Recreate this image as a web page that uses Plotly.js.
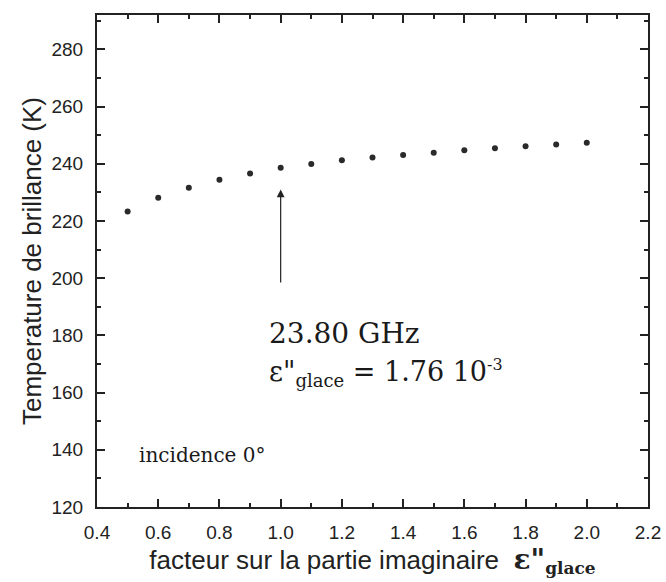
<!DOCTYPE html>
<html>
<head>
<meta charset="utf-8">
<script src="https://cdn.plot.ly/plotly-3.0.1.min.js"></script>
<style>html,body{margin:0;padding:0;background:#fff;}</style>
</head>
<body>
<div id="chart" style="width:666px;height:582px;"></div>
<script>
// Data
const facteur = [0.5, 0.6, 0.7, 0.8, 0.9, 1.0, 1.1, 1.2, 1.3, 1.4, 1.5, 1.6, 1.7, 1.8, 1.9, 2.0];
const tempBrillance = [223.3, 228.1, 231.6, 234.4, 236.6, 238.6, 239.9, 241.2, 242.2, 243.1, 243.8, 244.7, 245.4, 246.1, 246.7, 247.3];
const xTickVals = [0.4, 0.6, 0.8, 1.0, 1.2, 1.4, 1.6, 1.8, 2.0, 2.2];
const xTickText = ['0.4', '0.6', '0.8', '1.0', '1.2', '1.4', '1.6', '1.8', '2.0', '2.2'];
const yTickVals = [120, 140, 160, 180, 200, 220, 240, 260, 280];
const arrowX = 1.0, arrowTip = 231, arrowTail = 198;

const trace = {
  x: facteur, y: tempBrillance, type: 'scatter', mode: 'markers',
  marker: {color: '#2a2a2a', size: 6},
  hoverinfo: 'x+y', showlegend: false
};
// empty trace so the label-only overlay axis is attached to the plot
const labelAxisTrace = {x: [], y: [], xaxis: 'x2', yaxis: 'y', type: 'scatter', mode: 'markers', showlegend: false};

const serif = 'DejaVu Serif, Liberation Serif, serif';
const sans = 'Liberation Sans, Arial, sans-serif';

const layout = {
  width: 666, height: 582,
  margin: {l: 97, r: 18, t: 15, b: 75},
  paper_bgcolor: '#fff', plot_bgcolor: '#fff',
  showlegend: false,
  xaxis: {
    range: [0.4, 2.2], tickmode: 'array', tickvals: xTickVals,
    ticks: 'inside', ticklen: 8, tickwidth: 2, tickcolor: '#222',
    minor: {dtick: 0.1, ticks: 'inside', ticklen: 4, tickwidth: 2, tickcolor: '#222', showgrid: false},
    showline: true, linewidth: 2, linecolor: '#222', mirror: 'ticks',
    showgrid: false, zeroline: false, showticklabels: false
  },
  xaxis2: {
    overlaying: 'x', anchor: 'y', side: 'bottom',
    range: [0.4, 2.2], tickmode: 'array', tickvals: xTickVals, ticktext: xTickText,
    ticks: 'outside', ticklen: 8, tickwidth: 1, tickcolor: 'rgba(255,255,255,0)',
    showline: false, showgrid: false, zeroline: false,
    tickfont: {family: sans, size: 19, color: '#222'},
    title: {
      text: 'facteur sur la partie imaginaire  <span style="font-family:DejaVu Serif;font-size:28px"><b>ε"</b></span><sub><span style="font-family:DejaVu Serif;font-weight:bold;font-size:17px">glace</span></sub>',
      font: {family: sans, size: 26, color: '#222'}, standoff: 4
    }
  },
  yaxis: {
    range: [120, 292], tickmode: 'array', tickvals: yTickVals,
    ticks: 'inside', ticklen: 8, tickwidth: 2, tickcolor: '#222',
    minor: {dtick: 10, ticks: 'inside', ticklen: 4, tickwidth: 2, tickcolor: '#222', showgrid: false},
    showline: true, linewidth: 2, linecolor: '#222', mirror: 'ticks',
    showgrid: false, zeroline: false, ticklabelstandoff: 8,
    tickfont: {family: sans, size: 19, color: '#222'},
    title: {text: 'Temperature de brillance (K)', font: {family: sans, size: 26, color: '#222'}, standoff: 2}
  },
  annotations: [
    {x: arrowX, y: arrowTip, ax: arrowX, ay: arrowTail, axref: 'x', ayref: 'y', xref: 'x', yref: 'y',
     text: '', showarrow: true, arrowhead: 2, arrowsize: 1.3, arrowwidth: 1.2, arrowcolor: '#222'},
    {x: 0.955, y: 180.5, xref: 'x', yref: 'y', xanchor: 'left', yanchor: 'middle', showarrow: false,
     text: '23.80 GHz', font: {family: serif, size: 28, color: '#1a1a1a'}},
    {x: 0.955, y: 167, xref: 'x', yref: 'y', xanchor: 'left', yanchor: 'middle', showarrow: false,
     text: 'ε"<sub><span style="font-size:18px">glace</span></sub> = 1.76 10<sup><span style="font-size:16px">-3</span></sup>', font: {family: serif, size: 27, color: '#1a1a1a'}},
    {x: 0.53, y: 138.3, xref: 'x', yref: 'y', xanchor: 'left', yanchor: 'middle', showarrow: false,
     text: 'incidence 0°', font: {family: serif, size: 20, color: '#1a1a1a'}}
  ]
};

Plotly.newPlot('chart', [trace, labelAxisTrace], layout, {displayModeBar: false, staticPlot: true});
</script>
</body>
</html>
